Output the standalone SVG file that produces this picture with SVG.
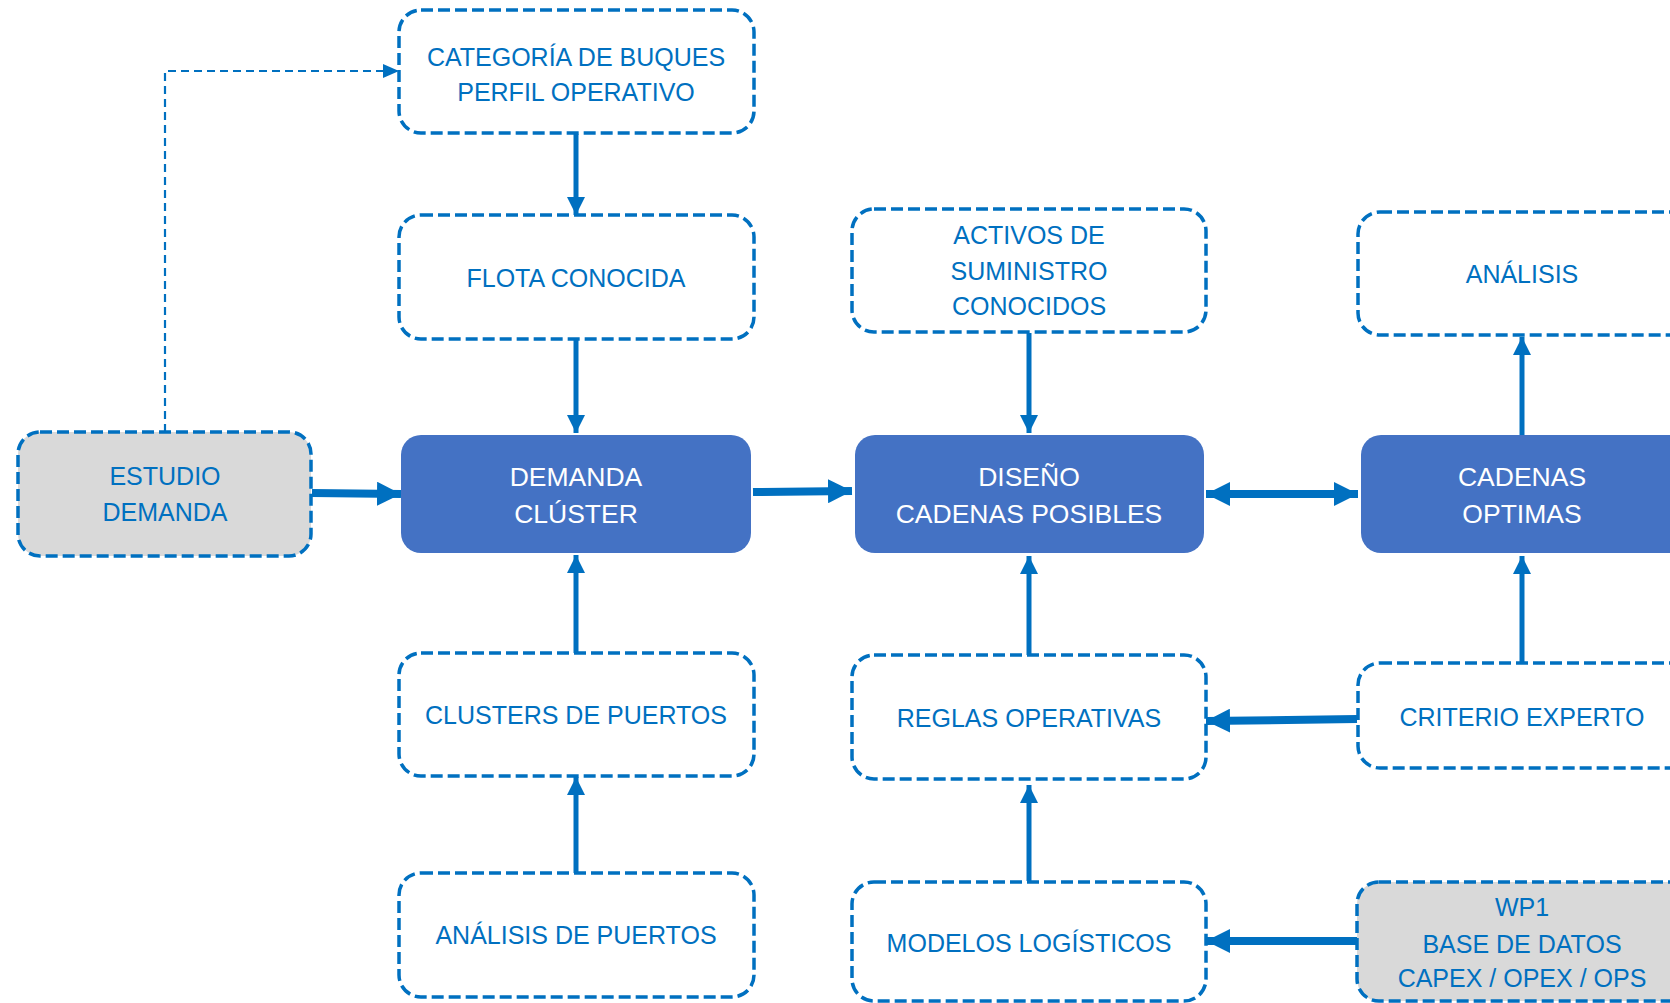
<svg xmlns="http://www.w3.org/2000/svg" width="1670" height="1003" viewBox="0 0 1670 1003">
<style>
  .dbox { fill: #FFFFFF; stroke: #0070C0; stroke-width: 3.5; stroke-dasharray: 12 5; }
  .gbox { fill: #D9D9D9; stroke: #0070C0; stroke-width: 3.5; stroke-dasharray: 12 5; }
  .sbox { fill: #4472C4; stroke: none; }
  .t { font-family: "Liberation Sans", Arial, sans-serif; font-size: 25px; fill: #0070C0; text-anchor: middle; }
  .tw { font-family: "Liberation Sans", Arial, sans-serif; font-size: 26.5px; fill: #FFFFFF; text-anchor: middle; }
  .cv { stroke: #0070C0; stroke-width: 5; fill: none; }
  .ch { stroke: #0070C0; stroke-width: 8; fill: none; }
  .cd { stroke: #0070C0; stroke-width: 2.2; fill: none; stroke-dasharray: 8 5; }
</style>
<defs>
  <marker id="aV" markerUnits="userSpaceOnUse" markerWidth="18" markerHeight="18" viewBox="0 0 18 18" refX="18" refY="9" orient="auto-start-reverse">
    <path d="M0,0 L18,9 L0,18 Z" fill="#0070C0"/>
  </marker>
  <marker id="aH" markerUnits="userSpaceOnUse" markerWidth="24" markerHeight="24" viewBox="0 0 24 24" refX="24" refY="12" orient="auto-start-reverse">
    <path d="M0,0 L24,12 L0,24 Z" fill="#0070C0"/>
  </marker>
  <marker id="aD" markerUnits="userSpaceOnUse" markerWidth="16" markerHeight="14" viewBox="0 0 16 14" refX="16" refY="7" orient="auto">
    <path d="M0,0 L16,7 L0,14 Z" fill="#0070C0"/>
  </marker>
</defs>

<g id="connectors">
  <path class="cd" d="M165,432 V71 H399" marker-end="url(#aD)"/>
  <line class="cv" x1="576" y1="134" x2="576" y2="215" marker-end="url(#aV)"/>
  <line class="cv" x1="576" y1="340" x2="576" y2="433" marker-end="url(#aV)"/>
  <line class="cv" x1="576" y1="653" x2="576" y2="555" marker-end="url(#aV)"/>
  <line class="cv" x1="576" y1="873" x2="576" y2="777" marker-end="url(#aV)"/>
  <line class="cv" x1="1029" y1="333" x2="1029" y2="433" marker-end="url(#aV)"/>
  <line class="cv" x1="1029" y1="655" x2="1029" y2="556" marker-end="url(#aV)"/>
  <line class="cv" x1="1029" y1="881" x2="1029" y2="785" marker-end="url(#aV)"/>
  <line class="cv" x1="1522" y1="435" x2="1522" y2="337" marker-end="url(#aV)"/>
  <line class="cv" x1="1522" y1="663" x2="1522" y2="556" marker-end="url(#aV)"/>
  <line class="ch" x1="312" y1="493" x2="401" y2="494" marker-end="url(#aH)"/>
  <line class="ch" x1="753" y1="492" x2="852" y2="491" marker-end="url(#aH)"/>
  <line class="ch" x1="1206" y1="494" x2="1358" y2="494" marker-start="url(#aH)" marker-end="url(#aH)"/>
  <line class="ch" x1="1357" y1="719" x2="1206" y2="721" stroke-width="7" marker-end="url(#aH)"/>
  <line class="ch" x1="1357" y1="941" x2="1206" y2="941" stroke-width="7" marker-end="url(#aH)"/>
</g>

<g id="n-categoria">
  <rect class="dbox" x="399" y="10" width="355" height="123" rx="22"/>
  <text class="t" x="576" y="66">CATEGORÍA DE BUQUES</text>
  <text class="t" x="576" y="101">PERFIL OPERATIVO</text>
</g>
<g id="n-flota">
  <rect class="dbox" x="399" y="215" width="355" height="124" rx="22"/>
  <text class="t" x="576" y="287">FLOTA CONOCIDA</text>
</g>
<g id="n-estudio">
  <rect class="gbox" x="18" y="432" width="293" height="124" rx="22"/>
  <text class="t" x="165" y="485">ESTUDIO</text>
  <text class="t" x="165" y="521">DEMANDA</text>
</g>
<g id="n-demanda">
  <rect class="sbox" x="401" y="435" width="350" height="118" rx="20"/>
  <text class="tw" x="576" y="486">DEMANDA</text>
  <text class="tw" x="576" y="523">CLÚSTER</text>
</g>
<g id="n-clusters">
  <rect class="dbox" x="399" y="653" width="355" height="123" rx="22"/>
  <text class="t" x="576" y="724">CLUSTERS DE PUERTOS</text>
</g>
<g id="n-analisis-puertos">
  <rect class="dbox" x="399" y="873" width="355" height="124" rx="22"/>
  <text class="t" x="576" y="944">ANÁLISIS DE PUERTOS</text>
</g>
<g id="n-activos">
  <rect class="dbox" x="852" y="209" width="354" height="123" rx="22"/>
  <text class="t" x="1029" y="244">ACTIVOS DE</text>
  <text class="t" x="1029" y="280">SUMINISTRO</text>
  <text class="t" x="1029" y="315">CONOCIDOS</text>
</g>
<g id="n-diseno">
  <rect class="sbox" x="855" y="435" width="349" height="118" rx="20"/>
  <text class="tw" x="1029" y="486">DISEÑO</text>
  <text class="tw" x="1029" y="523">CADENAS POSIBLES</text>
</g>
<g id="n-reglas">
  <rect class="dbox" x="852" y="655" width="354" height="124" rx="22"/>
  <text class="t" x="1029" y="727">REGLAS OPERATIVAS</text>
</g>
<g id="n-modelos">
  <rect class="dbox" x="852" y="882" width="354" height="119" rx="22"/>
  <text class="t" x="1029" y="952">MODELOS LOGÍSTICOS</text>
</g>
<g id="n-analisis">
  <rect class="dbox" x="1358" y="212" width="340" height="123" rx="22"/>
  <text class="t" x="1522" y="283">ANÁLISIS</text>
</g>
<g id="n-cadenas">
  <rect class="sbox" x="1361" y="435" width="340" height="118" rx="20"/>
  <text class="tw" x="1522" y="486">CADENAS</text>
  <text class="tw" x="1522" y="523">OPTIMAS</text>
</g>
<g id="n-criterio">
  <rect class="dbox" x="1358" y="663" width="340" height="105" rx="22"/>
  <text class="t" x="1522" y="726">CRITERIO EXPERTO</text>
</g>
<g id="n-wp1">
  <rect class="gbox" x="1357" y="882" width="340" height="119" rx="22"/>
  <text class="t" x="1522" y="916">WP1</text>
  <text class="t" x="1522" y="953">BASE DE DATOS</text>
  <text class="t" x="1522" y="987">CAPEX / OPEX / OPS</text>
</g>
</svg>
